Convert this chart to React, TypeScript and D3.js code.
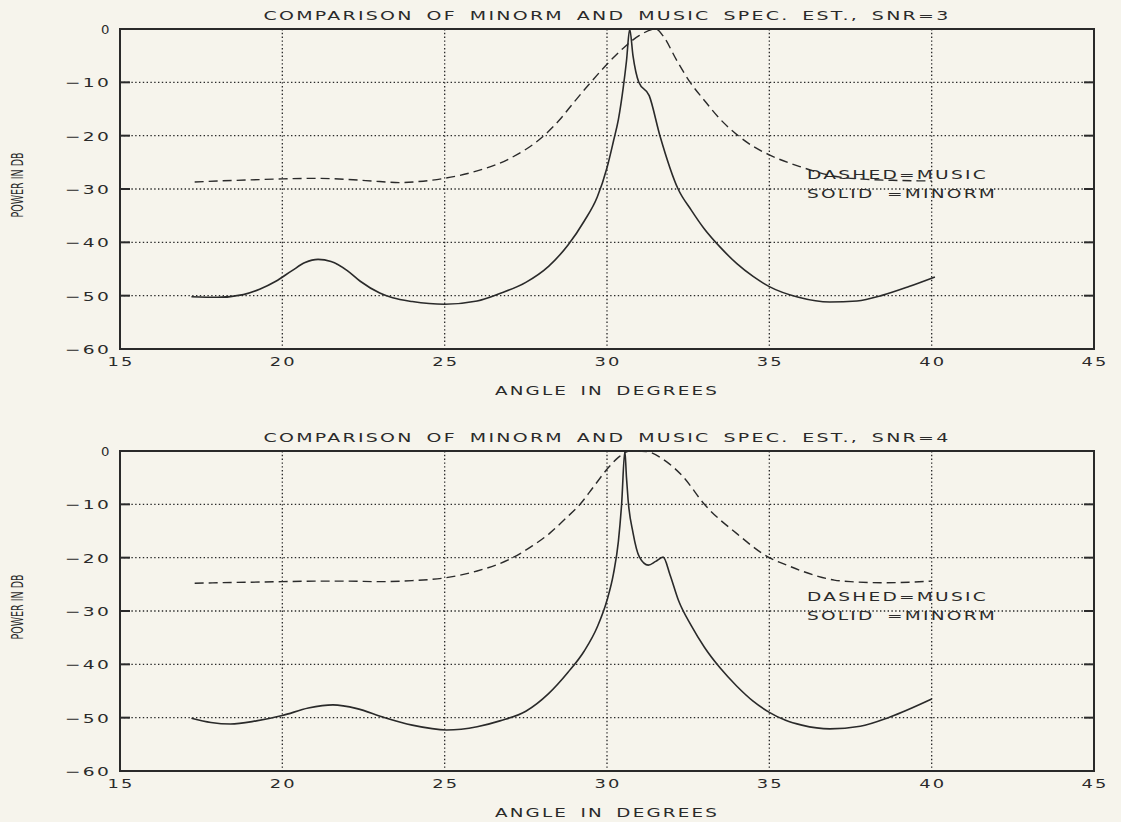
import React from 'react';
import * as d3 from 'd3';

const svgWidth = 1121;
const svgHeight = 822;
const plotLeft = 120;
const plotRight = 1094;
const panelTops = [29, 451];
const panelHeight = 320;

const xTicks = [15, 20, 25, 30, 35, 40, 45];
const yTicks = [0, -10, -20, -30, -40, -50, -60];
const snrValues = ['3', '4'];

// SNR = 3, MUSIC (dashed)
const musicAngle3 = [17.3, 18, 19, 20, 21, 22, 23, 23.6, 24.2, 25, 26, 27, 28, 28.5, 29, 29.5, 30, 30.5, 31, 31.5, 31.75, 32.14, 32.55, 33, 33.5, 34, 34.5, 35, 35.94, 37, 38, 39, 40];
const musicDb3 = [-28.7, -28.5, -28.3, -28.1, -28.0, -28.2, -28.6, -28.8, -28.6, -28.0, -26.6, -24.3, -20.3, -17.3, -13.6, -10, -6.6, -3.6, -1.2, 0, -1.5, -5.8, -9.9, -13.4, -17, -19.8, -22, -23.6, -25.8, -27.6, -28.2, -28.4, -28.5];

// SNR = 3, MINORM (solid)
const minormAngle3 = [17.2, 18, 18.8, 19.3, 19.8, 20.3, 20.7, 21.1, 21.5, 22, 22.4, 23, 23.4, 24, 25, 26, 26.7, 27.5, 28.2, 28.8, 29.3, 29.7, 30.0, 30.2, 30.35, 30.5, 30.6, 30.7, 30.8, 30.98, 31.3, 31.63, 32.19, 32.6, 33, 33.5, 34, 34.5, 35, 35.9, 36.86, 37.7, 38.5, 39.3, 40.1];
const minormDb3 = [-50.2, -50.3, -49.8, -48.8, -47.3, -45.3, -43.8, -43.2, -43.6, -45.3, -47.3, -49.5, -50.4, -51.1, -51.6, -51, -49.6, -47.5, -44.5, -40.5, -36, -31.5, -26, -21, -17, -11, -6, 0, -5, -10, -12.5, -20, -30, -34, -37.5, -41, -44, -46.4, -48.3, -50.3, -51.2, -51, -49.9, -48.3, -46.5];

// SNR = 4, MUSIC (dashed)
const musicAngle4 = [17.3, 18, 19, 20, 21, 22, 23, 24, 25, 26, 27, 27.7, 28.24, 28.7, 29.17, 29.6, 30.03, 30.35, 30.7, 31.2, 31.83, 32.34, 33, 34, 35, 35.5, 36, 36.5, 37, 37.5, 38.5, 39.3, 40];
const musicDb4 = [-24.8, -24.7, -24.6, -24.5, -24.4, -24.4, -24.5, -24.3, -23.8, -22.5, -20.3, -17.8, -15.4, -12.8, -10, -6.6, -3.2, -1.2, 0, -0.1, -2, -4.8, -10, -15.5, -20, -21.3, -22.5, -23.5, -24.2, -24.5, -24.7, -24.6, -24.4];

// SNR = 4, MINORM (solid)
const minormAngle4 = [17.2, 17.8, 18.4, 19.2, 20, 20.8, 21.56, 22.3, 23.1, 24, 25.06, 26, 26.7, 27.5, 28.2, 28.8, 29.3, 29.7, 30.0, 30.2, 30.35, 30.45, 30.55, 30.6, 30.65, 30.8, 31.0, 31.27, 31.5, 31.73, 31.94, 32.2, 32.6, 33, 33.5, 34, 34.5, 35, 35.5, 36, 36.86, 37.8, 38.7, 40];
const minormDb4 = [-50.1, -50.9, -51.2, -50.6, -49.6, -48.2, -47.6, -48.3, -49.9, -51.4, -52.3, -51.7, -50.6, -48.8, -45.5, -41.5, -37.5, -33, -28, -23, -17, -10, 0, -5, -9.2, -15.3, -19.9, -21.4, -20.7, -19.9, -23.2, -28, -32.8, -36.8, -40.8, -44.1, -46.9, -49, -50.5, -51.4, -52.1, -51.6, -49.9, -46.5];

const panels = [
  { snr: snrValues[0], musicAngle: musicAngle3, musicDb: musicDb3, minormAngle: minormAngle3, minormDb: minormDb3 },
  { snr: snrValues[1], musicAngle: musicAngle4, musicDb: musicDb4, minormAngle: minormAngle4, minormDb: minormDb4 },
];

const ink = '#2a2a2a';
const font = '"DejaVu Sans", sans-serif';

// wide plotter-style lettering: stretched glyphs
const Label = ({ x, y, len, anchor = 'start', size = 12.5, children }) => (
  <text x={x} y={y} textAnchor={anchor} fontFamily={font} fontSize={size}
    letterSpacing={1.5} wordSpacing={3} textLength={len} lengthAdjust="spacingAndGlyphs" fill={ink}>
    {children}
  </text>
);

const Panel = ({ top, snr, musicAngle, musicDb, minormAngle, minormDb }) => {
  const bottom = top + panelHeight;
  const xScale = d3.scaleLinear().domain([15, 45]).range([plotLeft, plotRight]);
  const yScale = d3.scaleLinear().domain([-60, 0]).range([bottom, top]);

  const line = d3.line<[number, number]>()
    .x(d => xScale(d[0]))
    .y(d => yScale(d[1]))
    .curve(d3.curveMonotoneX);

  const musicPath = line(musicAngle.map((a, i) => [a, musicDb[i]]));
  const minormPath = line(minormAngle.map((a, i) => [a, minormDb[i]]));
  const midX = (plotLeft + plotRight) / 2;

  return (
    <g>
      {/* dotted grid */}
      {xTicks.slice(1, -1).map(t => (
        <line key={'gx' + t} x1={xScale(t)} x2={xScale(t)} y1={top} y2={bottom}
          stroke={ink} strokeWidth={1.3} strokeDasharray="1.4 2.4" />
      ))}
      {yTicks.slice(1, -1).map(t => (
        <line key={'gy' + t} x1={plotLeft} x2={plotRight} y1={yScale(t)} y2={yScale(t)}
          stroke={ink} strokeWidth={1.3} strokeDasharray="1.4 2.4" />
      ))}
      {/* inward ticks on y axes */}
      {yTicks.slice(1, -1).map(t => (
        <g key={'tk' + t}>
          <line x1={plotLeft} x2={plotLeft + 10} y1={yScale(t)} y2={yScale(t)} stroke={ink} strokeWidth={2} />
          <line x1={plotRight - 10} x2={plotRight} y1={yScale(t)} y2={yScale(t)} stroke={ink} strokeWidth={2} />
        </g>
      ))}
      <rect x={plotLeft} y={top} width={plotRight - plotLeft} height={panelHeight}
        fill="none" stroke={ink} strokeWidth={2} />

      {/* curves */}
      <path d={musicPath} fill="none" stroke={ink} strokeWidth={1.4} strokeDasharray="9 5" />
      <path d={minormPath} fill="none" stroke={ink} strokeWidth={1.6} />

      {/* tick labels */}
      {yTicks.map(t => (
        <Label key={'ly' + t} x={plotLeft - 9} y={yScale(t) + 5} anchor="end" len={t === 0 ? 10 : 46}>
          {t === 0 ? '0' : '\u2212' + Math.abs(t)}
        </Label>
      ))}
      {xTicks.map(t => (
        <Label key={'lx' + t} x={xScale(t) + 1} y={bottom + 17} anchor="middle" len={27}>
          {String(t)}
        </Label>
      ))}

      {/* titles */}
      <Label x={midX} y={top - 9} anchor="middle" len={687}>
        {`COMPARISON OF MINORM AND MUSIC SPEC. EST., SNR=${snr}`}
      </Label>
      <Label x={midX} y={bottom + 46} anchor="middle" len={224}>
        ANGLE IN DEGREES
      </Label>
      <text transform={`translate(23,${top + panelHeight / 2 - 4}) rotate(-90)`} textAnchor="middle"
        fontFamily={'"DejaVu Sans Condensed", "DejaVu Sans", sans-serif'} fontSize={15}
        textLength={65} lengthAdjust="spacingAndGlyphs" fill={ink}>
        POWER IN DB
      </text>

      {/* legend */}
      <Label x={xScale(36.16)} y={yScale(-28.2)} len={181}>
        DASHED=MUSIC
      </Label>
      <Label x={xScale(36.16)} y={yScale(-28.2) + 19} len={190}>
        SOLID =MINORM
      </Label>
    </g>
  );
};

export default function App() {
  return (
    <svg width={svgWidth} height={svgHeight} style={{ position: 'absolute', left: 0, top: 0 }}>
      <rect x={0} y={0} width={svgWidth} height={svgHeight} fill="#f6f4ec" />
      {panels.map((p, i) => (
        <Panel key={i} top={panelTops[i]} {...p} />
      ))}
    </svg>
  );
}
